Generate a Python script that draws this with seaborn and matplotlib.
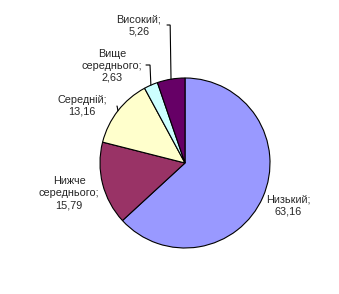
import numpy as np
import matplotlib
matplotlib.use("Agg")
import matplotlib.pyplot as plt
import seaborn as sns

categories = ["Низький", "Нижче\nсереднього", "Середній", "Вище\nсереднього", "Високий"]
values = [63.16, 15.79, 13.16, 2.63, 5.26]
colors = ["#9999FF", "#993366", "#FFFFCC", "#CCFFFF", "#660066"]

sns.set_style("white")
plt.rcParams['font.family'] = ['Liberation Sans', 'DejaVu Sans']

W, H = 339, 294
fig = plt.figure(figsize=(W / 100, H / 100), dpi=100)
cx, cy, r = 185, 163, 85
ax = fig.add_axes([(cx - r) / W, (H - cy - r) / H, 2 * r / W, 2 * r / H])
wedges, _ = ax.pie(values, colors=colors, startangle=90, counterclock=False,
                   wedgeprops=dict(edgecolor="black", linewidth=0.8))
ax.set_xlim(-1, 1)
ax.set_ylim(-1, 1)
ax.axis("off")

def px(x, y):
    return ((x - cx) / r, (cy - y) / r)

# label centre positions (pixels) and leader line start points
label_pos = [(288, 206), (69, 193), (82, 106), (112, 66), (139, 25)]
leader = [None, None, (117, 106), (146, 65), (167, 25)]

for i, (w, cat, v) in enumerate(zip(wedges, categories, values)):
    txt = f"{cat};\n{v:.2f}".replace(".", ",")
    tx, ty = px(*label_pos[i])
    ax.text(tx, ty, txt, ha="center", va="center", fontsize=7.8,
            linespacing=1.25, clip_on=False)
    if leader[i] is not None:
        ang = np.deg2rad((w.theta1 + w.theta2) / 2)
        axp, ayp = np.cos(ang), np.sin(ang)
        lx, ly = px(*leader[i])
        ex = axp - 0.01
        ax.plot([lx, ex, axp], [ly, ly, ayp], color="black", lw=0.8,
                clip_on=False, solid_joinstyle="miter")

fig.savefig("out.png", dpi=100, facecolor="white")
